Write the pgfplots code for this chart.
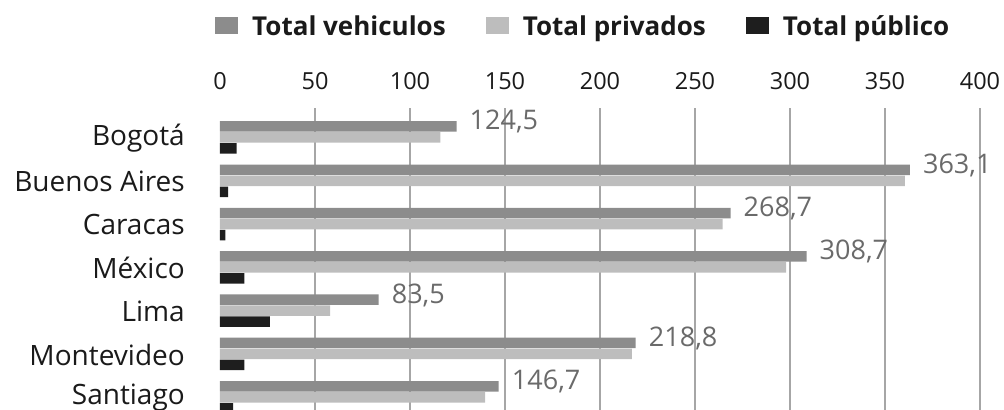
\documentclass[border=0pt]{standalone}
\usepackage{fontspec}
\setmainfont{Open Sans}
\usepackage{pgfplots}
\pgfplotsset{compat=1.18}
\definecolor{cTot}{HTML}{8C8C8C}
\definecolor{cPriv}{HTML}{BDBDBD}
\definecolor{cPub}{HTML}{1E1E1E}
\definecolor{valgray}{HTML}{6A6A6A}
\definecolor{txt}{HTML}{1A1A1A}
\begin{document}
\begin{tikzpicture}
\begin{axis}[
  scale only axis, width=760bp, height=302bp,
  xmin=0, xmax=400, ymin=-0.293, ymax=6.68,
  xbar, bar width=10.5bp,
  axis x line*=top, axis y line*=left,
  axis line style={draw=none},
  major tick length=0pt,
  xtick={50,100,...,400},
  extra x ticks={0}, extra x tick style={grid=none},
  xmajorgrids, grid style={draw=gray!70, line width=1.3bp},
  ytick={0,...,6},
  yticklabels={Santiago,Montevideo,Lima,México,Caracas,Buenos Aires,Bogotá},
  /pgf/number format/assume math mode=true,
  xticklabel style={font=\fontsize{23.5bp}{26bp}\selectfont, text=txt, anchor=base, inner sep=0pt, yshift=18bp},
  yticklabel style={font=\fontsize{28bp}{30bp}\selectfont, text=txt, anchor=east, inner sep=0pt, xshift=-35bp, yshift=-0.5bp},
  legend columns=3,
  legend style={draw=none, fill=none, inner sep=0pt, font=\bfseries\fontsize{26bp}{28bp}\selectfont, text=txt,
    at={(rel axis cs:0,1)}, anchor=west, xshift=-5bp, yshift=82bp,
    /tikz/every even column/.append style={column sep=38bp},
    /tikz/every odd column/.append style={column sep=12bp}},
  legend image code/.code={\fill[#1] (0bp,-8.5bp) rectangle (23bp,8.5bp);},
]
\addplot[fill=cTot, draw=none, bar shift=11bp,
  point meta=x,
  nodes near coords={\pgfmathprintnumber[fixed,fixed zerofill,precision=1,use comma]{\pgfplotspointmeta}},
  nodes near coords style={anchor=west, font=\fontsize{27bp}{28bp}\selectfont, text=valgray, inner sep=0pt, xshift=13bp, yshift=4.5bp}]
  coordinates {(124.5,6) (363.1,5) (268.7,4) (308.7,3) (83.5,2) (218.8,1) (146.7,0)};
\addplot[fill=cPriv, draw=none, bar shift=0bp]
  coordinates {(116,6) (360.5,5) (264.6,4) (298,3) (58,2) (216.8,1) (139.5,0)};
\addplot[fill=cPub, draw=none, bar shift=-11bp]
  coordinates {(8.8,6) (4.3,5) (2.8,4) (12.8,3) (26.3,2) (12.8,1) (6.9,0)};
\legend{Total vehiculos,Total privados,Total público}
\coordinate (O) at (rel axis cs:0,0);
\end{axis}
\pgfresetboundingbox
\path[use as bounding box] (O) ++(-220bp,0) rectangle ++(1004bp,410bp);
\end{tikzpicture}
\end{document}
